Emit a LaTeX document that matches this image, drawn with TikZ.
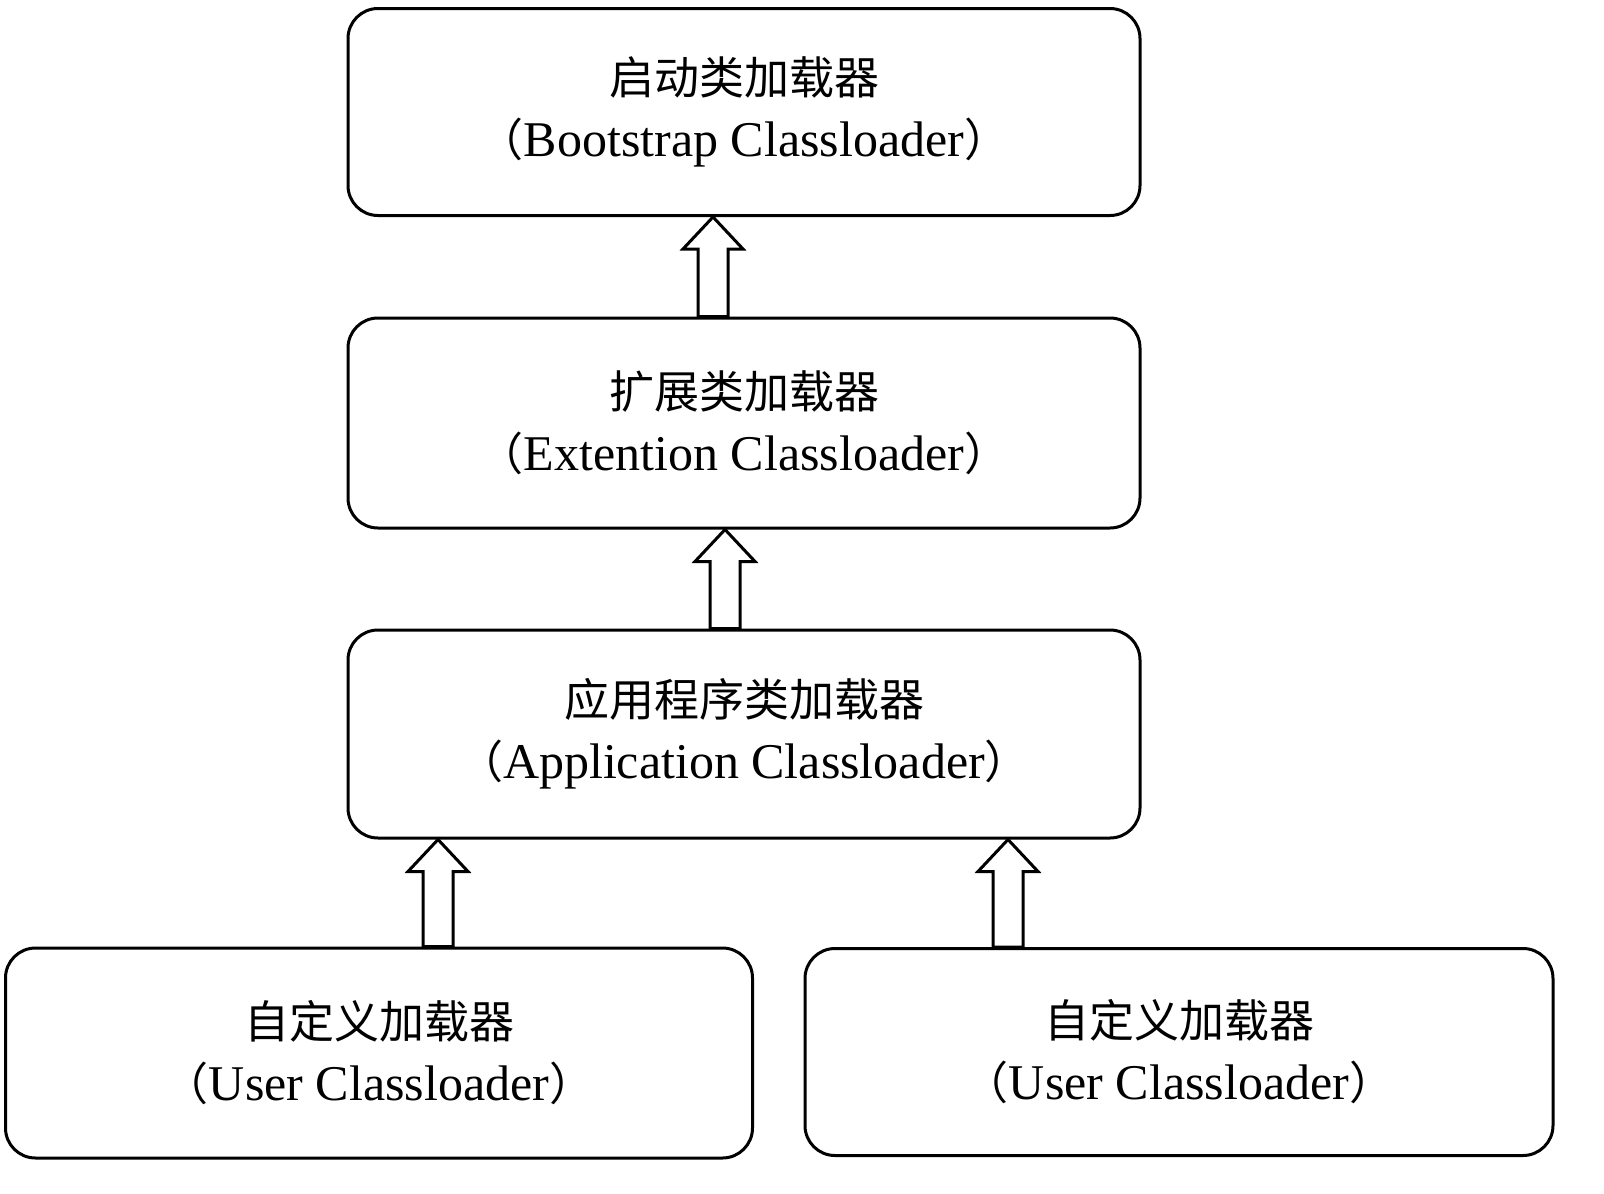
\documentclass[tikz,border=0pt]{standalone}
\usepackage{fontspec}
\setmainfont{Liberation Serif}
\newfontfamily\cjk{Noto Sans CJK SC}
\usetikzlibrary{calc}
\tikzset{
 box/.style={draw,line width=3pt,rounded corners=30pt,align=center,inner sep=0pt,font=\fontsize{50}{62}\selectfont},
 harrow/.style={draw,line width=3pt,fill=white,line join=miter}
}
\newcommand{\cj}[1]{{\cjk\fontsize{45}{62}\selectfont #1}}
\newcommand{\uparr}[3]{% x, lower node, upper node
 \draw[harrow] ({#1-15},0 |- #2.north) -- ($({#1-15},0 |- #3.south)+(0,32)$) -- ($({#1-30},0 |- #3.south)+(0,32)$) -- ({#1},0 |- #3.south) -- ($({#1+30},0 |- #3.south)+(0,32)$) -- ($({#1+15},0 |- #3.south)+(0,32)$) -- ({#1+15},0 |- #2.north) -- cycle;}
\begin{document}
\begin{tikzpicture}[x=1pt,y=-1pt]
\useasboundingbox (0,0) rectangle (1604,1194);
\node[box,minimum width=792pt,minimum height=207pt] (b) at (744,112) {\cj{启动类加载器}\\\cj{（}Bootstrap Classloader\cj{）}};
\node[box,minimum width=792pt,minimum height=210pt] (e) at (744,423) {\cj{扩展类加载器}\\\cj{（}Extention Classloader\cj{）}};
\node[box,minimum width=792pt,minimum height=208pt] (a) at (744,734) {\cj{应用程序类加载器}\\\cj{（}Application Classloader\cj{）}};
\node[box,minimum width=747pt,minimum height=210pt] (u1) at (379,1053) {\cj{自定义加载器}\\\cj{（}User Classloader\cj{）}};
\node[box,minimum width=748pt,minimum height=207pt] (u2) at (1179,1052) {\cj{自定义加载器}\\\cj{（}User Classloader\cj{）}};
\uparr{713}{e}{b}
\uparr{725}{a}{e}
\uparr{438}{u1}{a}
\uparr{1008}{u2}{a}
\end{tikzpicture}
\end{document}
